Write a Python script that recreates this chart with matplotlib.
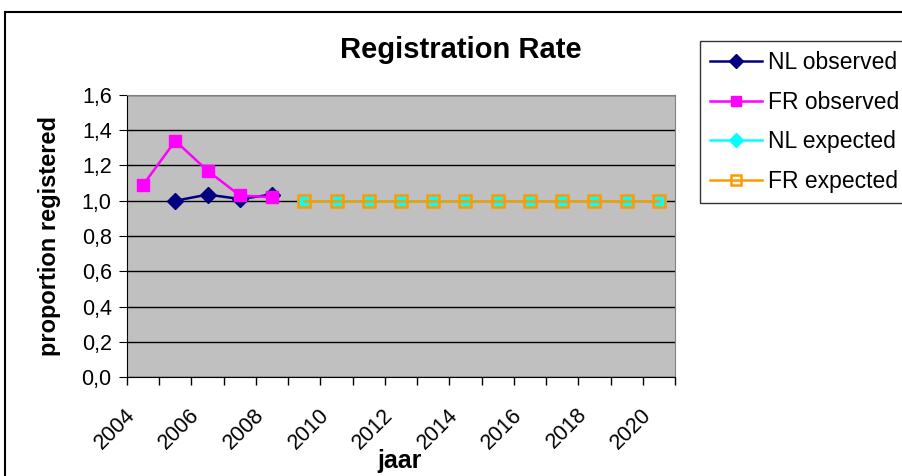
import matplotlib.pyplot as plt
import matplotlib.transforms as mtransforms
from matplotlib.patches import Rectangle
from matplotlib.ticker import FuncFormatter, MultipleLocator
import numpy as np

plt.rcParams['font.family'] = ['Liberation Sans', 'DejaVu Sans']

# jaren en waarden
years = list(range(2004, 2021))
nl_observed = [np.nan, 1.00, 1.035, 1.01, 1.035] + [np.nan] * 12
fr_observed = [1.09, 1.34, 1.17, 1.03, 1.02] + [np.nan] * 12
nl_expected = [np.nan] * 5 + [1.0] * 12
fr_expected = [np.nan] * 5 + [1.0] * 12

x = np.arange(len(years))

fig = plt.figure(figsize=(9.03, 4.76), dpi=100)
ax = fig.add_axes([127 / 903, 1 - 377 / 476, 548 / 903, 282 / 476])
ax.set_facecolor('#C0C0C0')

ax.plot(x, nl_observed, color='#000080', lw=1.8, marker='D', ms=8,
        mfc='#000080', mec='#000080', label='NL observed', zorder=3)
ax.plot(x, fr_observed, color='#FF00FF', lw=1.8, marker='s', ms=9,
        mfc='#FF00FF', mec='#FF00FF', label='FR observed', zorder=4)
ax.plot(x, nl_expected, color='#00FFFF', lw=1.8, marker='D', ms=7,
        mfc='#00FFFF', mec='#00FFFF', label='NL expected', zorder=3)
ax.plot(x, fr_expected, color='#FF9900', lw=1.8, marker='s', ms=8,
        mfc='none', mec='#FF9900', mew=1.8, label='FR expected', zorder=4)

ax.set_xlim(-0.5, len(years) - 0.5)
ax.set_ylim(0, 1.6)
ax.yaxis.set_major_locator(MultipleLocator(0.2))
ax.yaxis.set_major_formatter(FuncFormatter(lambda v, p: f'{v:.1f}'.replace('.', ',')))
ax.grid(axis='y', color='black', lw=1)
ax.set_axisbelow(True)

# tickmarks tussen de categorieen, labels om het jaar
ax.set_xticks(np.arange(-0.5, len(years)), minor=True)
ax.set_xticks(x[::2])
ax.set_xticklabels([str(y) for y in years[::2]], rotation=45, ha='right',
                   va='center', rotation_mode='anchor', fontsize=15.5)
ax.tick_params(axis='x', which='major', length=0, pad=25)
ax.tick_params(axis='x', which='minor', length=6, direction='out', width=1)
ax.tick_params(axis='y', length=6, direction='out', labelsize=15.5, pad=5)
offset = mtransforms.ScaledTranslation(-11 / 100, 0, fig.dpi_scale_trans)
for lbl in ax.get_xticklabels():
    lbl.set_transform(lbl.get_transform() + offset)

ax.spines['top'].set_color('#808080')
ax.spines['right'].set_color('#808080')
ax.spines['left'].set_color('black')
ax.spines['bottom'].set_color('black')

fig.text(461 / 903, 1 - 50 / 476, 'Registration Rate', ha='center', va='center',
         fontsize=21, fontweight='bold')
fig.text(50 / 903, 1 - 236 / 476, 'proportion registered', rotation=90,
         ha='center', va='center', fontsize=17, fontweight='bold')
fig.text(400 / 903, 1 - 461 / 476, 'jaar', ha='center', va='center',
         fontsize=18, fontweight='bold')

leg = fig.legend(loc='upper left', bbox_to_anchor=(700 / 903, 1 - 41 / 476),
                 fontsize=16.5, frameon=True, fancybox=False, shadow=False,
                 handlelength=2.27, handletextpad=0.26, labelspacing=0.72,
                 borderpad=0.45, borderaxespad=0)
leg.get_frame().set_edgecolor('black')
leg.get_frame().set_linewidth(1)
for h in leg.legend_handles:
    h.set_markersize(7)

# rand om de hele grafiek
fig.patches.append(Rectangle((5 / 903, -0.2), 2, 1.2 - 12 / 476,
                             transform=fig.transFigure, fill=False,
                             edgecolor='black', lw=1.5))

fig.savefig('out.png', dpi=100)
